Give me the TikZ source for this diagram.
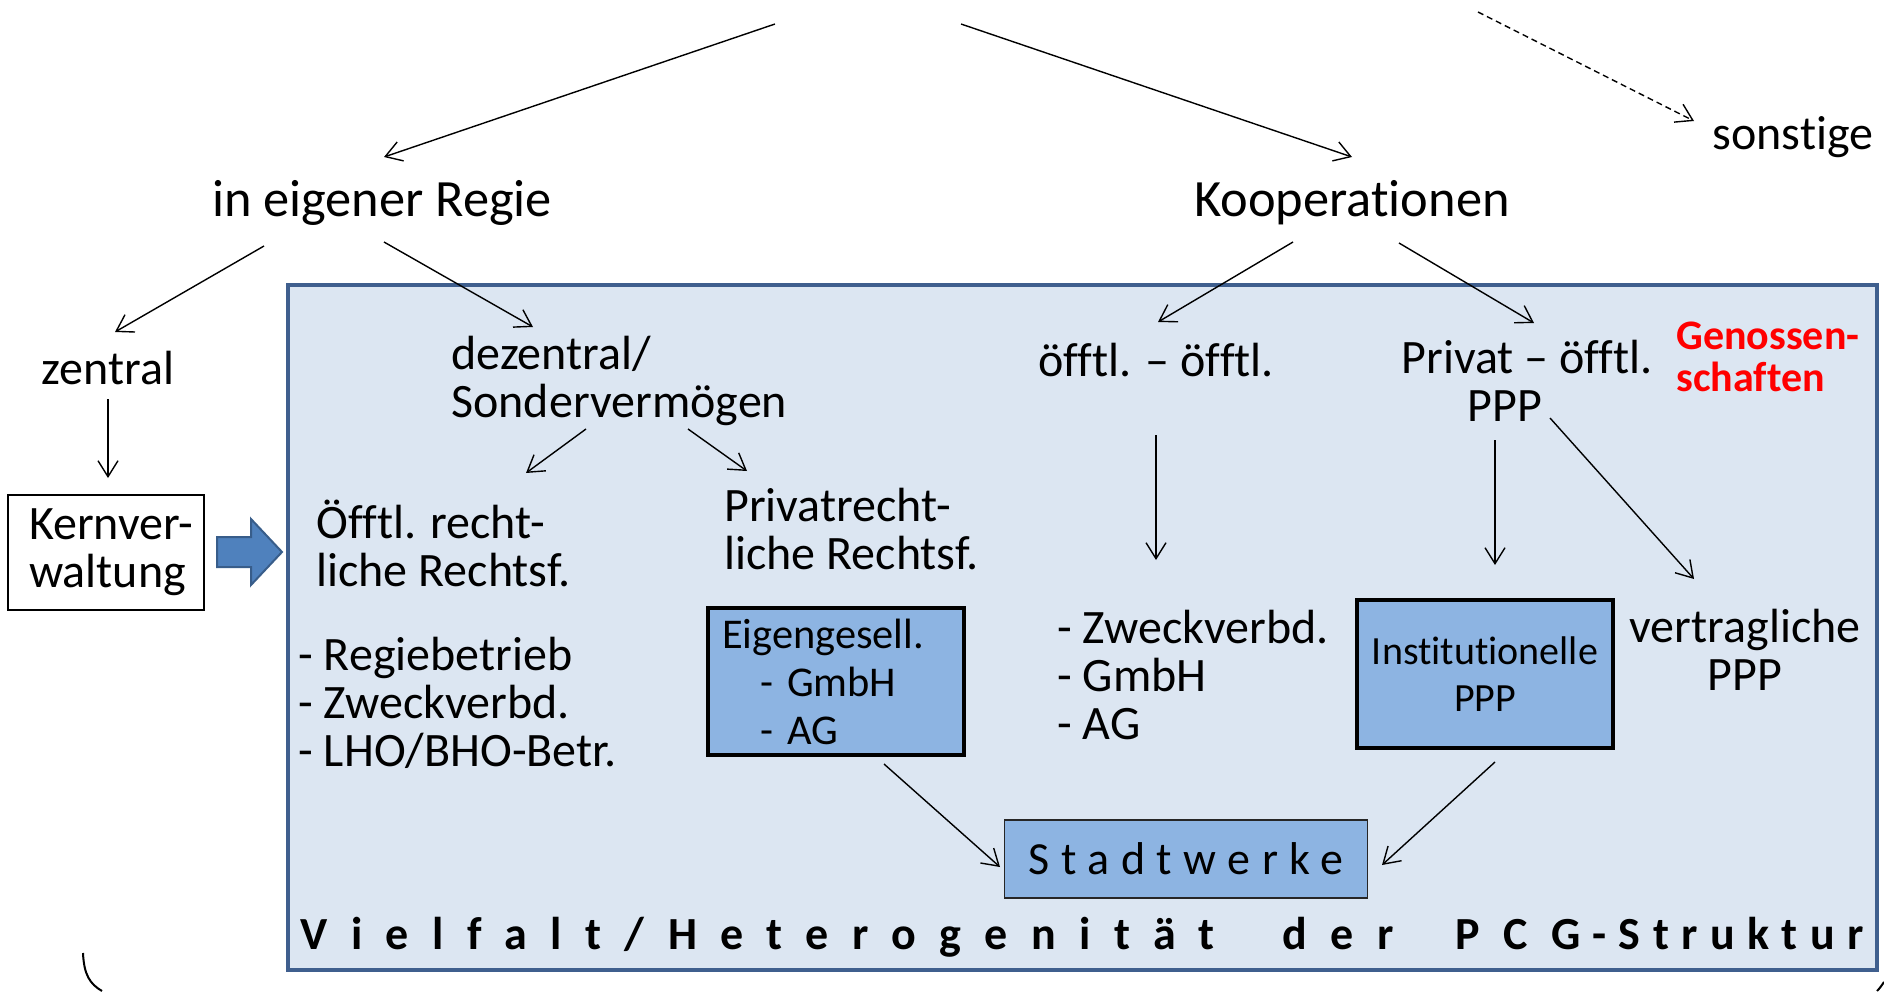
\documentclass[tikz,border=0pt]{standalone}
\usepackage{fontspec}
\setmainfont{Carlito}[Ligatures={TeX,NoCommon}]
\usetikzlibrary{arrows.meta}
\definecolor{boxfill}{HTML}{DCE6F2}
\definecolor{boxline}{HTML}{3F5F8E}
\definecolor{innerfill}{HTML}{8DB4E2}
\definecolor{bigarrow}{HTML}{4F81BD}
\definecolor{bigarrowline}{HTML}{385D8A}
\newcommand{\myfs}[2]{\fontsize{#1}{#2}\selectfont}
\begin{document}
\begin{tikzpicture}[x=0.5pt,y=-0.5pt,
  lbl/.style={inner sep=0pt, font=\myfs{24}{24}},
  big/.style={inner sep=0pt, font=\myfs{26.2}{26.2}},
  arr/.style={line width=0.7pt, -{Straight Barb[length=8pt,width=10pt]}},
  innerbox/.style={draw=black, line width=2pt, fill=innerfill, inner sep=0pt},
]
\useasboundingbox (0,0) rectangle (1884,991);

% main frame
\node[draw=boxline, line width=2pt, fill=boxfill, minimum width=794.5pt, minimum height=342.5pt, inner sep=0pt] (main) at (1082.5,627.5) {};

% top level
\node[big] (regie) at (382,203) {in eigener Regie};
\node[big] (koop) at (1352,203) {Kooperationen};
\node[lbl] (sonst) at (1793,137) {sonstige};

% left side
\node[lbl] (zentral) at (108,368) {zentral};
\node[draw, line width=1pt, minimum width=98pt, minimum height=57.5pt, text width=77pt, align=left, inner xsep=10.5pt, inner ysep=0pt, font=\myfs{24}{24}] (kern) at (106,552) {\mbox{Kernver-}\\waltung};
\filldraw[fill=bigarrow, draw=bigarrowline, line width=1pt] (217,537) -- (251,537) -- (251,519) -- (282,552) -- (251,585) -- (251,567) -- (217,567) -- cycle;

% inside frame, left part
\node[lbl, anchor=west, align=left] (dez) at (451,381) {dezentral/\\Sondervermögen};
\node[lbl, anchor=west, align=left] (oeff) at (316,543) {Öfftl. recht-\\liche Rechtsf.};
\node[lbl, anchor=west, align=left] (regl) at (298,703) {- Regiebetrieb\\- Zweckverbd.\\- LHO/BHO-Betr.};
\node[lbl, anchor=west, align=left] (privr) at (724,529) {Privatrecht-\\liche Rechtsf.};
\node[innerbox, minimum width=128pt, minimum height=73.5pt, text width=114pt, align=left, inner xsep=7pt, font=\myfs{21.2}{24}] (eigen) at (836,681.5) {Eigengesell.\\\hspace*{19pt}- GmbH\\\hspace*{19pt}- AG};

% inside frame, right part
\node[lbl] (oo) at (1156,360) {öfftl. – öfftl.};
\node[lbl, align=center] (pp) at (1527,381) {Privat – öfftl.\\PPP\hspace*{22pt}};
\node[inner sep=0pt, anchor=west, align=left, text=red, font=\bfseries\myfs{21}{21}] (gen) at (1676,357) {Genossen-\\schaften};
\node[lbl, anchor=west, align=left] (zl) at (1057,675) {- Zweckverbd.\\- GmbH\\- AG};
\node[innerbox, minimum width=128pt, minimum height=74pt, align=center, font=\myfs{20}{23.5}] (inst) at (1485,674) {Institutionelle\\PPP};
\node[lbl, align=center] (vert) at (1745,650) {vertragliche\\PPP};

\node[draw=black!85, line width=0.8pt, fill=innerfill, minimum width=181.5pt, minimum height=39pt, inner sep=0pt, font=\myfs{23}{23}] (stadt) at (1186,859) {\addfontfeature{LetterSpace=25}Stadtwerke};

\node[inner sep=0pt, anchor=west, font=\bfseries\myfs{23}{23}] (title) at (300,937) {{\addfontfeature{LetterSpace=51}Vielfalt/Heterogenität\hspace{34pt}der\hspace{31pt}PCG}\hspace{6pt}{\addfontfeature{LetterSpace=27}-Struktur}};

% connector end points
\coordinate (t1) at (775,24);
\coordinate (t2) at (961,24);
\coordinate (t3) at (1478,12);
\coordinate (regieN) at (384,157);
\coordinate (koopN) at (1352,157);
\coordinate (sonstN) at (1694,121);
\coordinate (regieSW) at (264,246);
\coordinate (zentralN) at (115,332);
\coordinate (regieSE) at (384,242);
\coordinate (dezN) at (533,327);
\coordinate (zentralS) at (108,399);
\coordinate (kernN) at (108,478);
\coordinate (dezSW) at (586,429);
\coordinate (oeffN) at (526,473);
\coordinate (dezSE) at (688,429);
\coordinate (privrN) at (747,471);
\coordinate (koopSW) at (1293,242);
\coordinate (ooN) at (1158,322);
\coordinate (koopSE) at (1399,243);
\coordinate (ppN) at (1534,323);
\coordinate (ooS) at (1156,435);
\coordinate (zlN) at (1156,560);
\coordinate (ppS) at (1495,440);
\coordinate (instN) at (1495,565);
\coordinate (ppSE) at (1550,418);
\coordinate (vertN) at (1694,579);
\coordinate (eigenS) at (884,764);
\coordinate (stadtW) at (1000,867);
\coordinate (instS) at (1495,762);
\coordinate (stadtE) at (1382,865);

\draw[arr] (t1) -- (regieN);
\draw[arr] (t2) -- (koopN);
\draw[arr, dash pattern=on 3pt off 2pt] (t3) -- (sonstN);
\draw[arr] (regieSW) -- (zentralN);
\draw[arr] (regieSE) -- (dezN);
\draw[arr] (zentralS) -- (kernN);
\draw[arr] (dezSW) -- (oeffN);
\draw[arr] (dezSE) -- (privrN);
\draw[arr] (koopSW) -- (ooN);
\draw[arr] (koopSE) -- (ppN);
\draw[arr] (ooS) -- (zlN);
\draw[arr] (ppS) -- (instN);
\draw[arr] (ppSE) -- (vertN);
\draw[arr] (eigenS) -- (stadtW);
\draw[arr] (instS) -- (stadtE);

% bracket fragments at the bottom edge
\draw[line width=1pt] (83,953) .. controls (84,975) and (90,984) .. (102,991);
\draw[line width=1pt] (1877,991) .. controls (1880,988) and (1882,985) .. (1884,982);
\end{tikzpicture}
\end{document}
